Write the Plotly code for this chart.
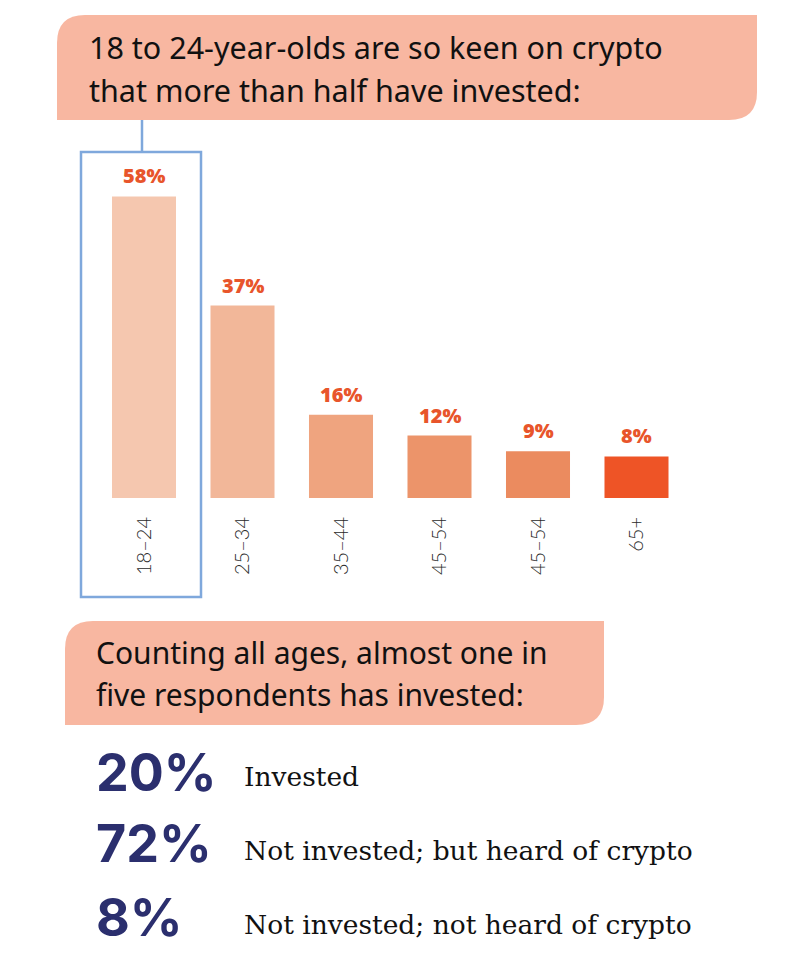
import plotly.graph_objects as go

# ---- data ----
age_groups = ["18–24", "25–34", "35–44", "45–54", "45–54", "65+"]
invested_pct = [58, 37, 16, 12, 9, 8]
bar_colors = ["#F5C7AF", "#F2B799", "#EFA47F", "#EC946A", "#EB8B5F", "#EE5426"]

summary_pct = [20, 72, 8]
summary_labels = ["Invested", "Not invested; but heard of crypto", "Not invested; not heard of crypto"]

title_lines = ["18 to 24-year-olds are so keen on crypto", "that more than half have invested:"]
sub_lines = ["Counting all ages, almost one in", "five respondents has invested:"]

W, H = 810, 959
def X(px): return px / W
def Y(py): return 1 - py / H

BOX_FILL = "#F8B7A1"
BLUE = "#7FA8DC"
PCT_COLOR = "#E8552B"
NAVY = "#2B2F6E"

xs = list(range(len(age_groups)))

fig = go.Figure()
fig.add_trace(go.Bar(
    x=xs, y=invested_pct, marker=dict(color=bar_colors, line=dict(width=0)),
    width=0.65, hoverinfo="skip", showlegend=False,
))

# y axis: baseline at 498px, top of domain at 150px, 5.2 px per %
y_bottom_px, y_top_px = 498, 150
y_range_top = (y_bottom_px - y_top_px) / 5.2
# x axis: category step 98.5px, first center at 144px
step = 98.5
x_left = 144 - step / 2
x_right = x_left + step * len(age_groups)

fig.update_layout(
    width=W, height=H, margin=dict(l=0, r=0, t=0, b=0),
    paper_bgcolor="white", plot_bgcolor="white",
    xaxis=dict(domain=[X(x_left), X(x_right)], range=[-0.5, len(age_groups) - 0.5],
               tickvals=xs, ticktext=age_groups, tickangle=-90,
               showgrid=False, zeroline=False, showline=False, ticks="",
               ticklabelstandoff=14,
               tickfont=dict(family="Lato", size=20, color="#2a2a2a", weight=300)),
    yaxis=dict(domain=[Y(y_bottom_px), Y(y_top_px)], range=[0, y_range_top],
               visible=False, showgrid=False, zeroline=False),
)

annotations = []
for i, v in enumerate(invested_pct):
    annotations.append(dict(x=i, y=v, xref="x", yref="y", text=f"{v}%",
                            showarrow=False, yanchor="bottom", yshift=5,
                            font=dict(family="Open Sans", size=20, color=PCT_COLOR, weight=800)))

shapes = []
def rounded_box(l, t, r, b, rad):
    path = (f"M {X(l)},{Y(b)} L {X(l)},{Y(t + rad)} Q {X(l)},{Y(t)} {X(l + rad)},{Y(t)} "
            f"L {X(r)},{Y(t)} L {X(r)},{Y(b - rad)} Q {X(r)},{Y(b)} {X(r - rad)},{Y(b)} Z")
    return dict(type="path", path=path, xref="paper", yref="paper",
                fillcolor=BOX_FILL, line=dict(width=0), layer="below")

shapes.append(rounded_box(57, 15, 757, 120, 28))
shapes.append(rounded_box(65, 621, 604, 725, 28))
# highlight frame + connector
shapes.append(dict(type="rect", xref="paper", yref="paper", x0=X(81), x1=X(201), y0=Y(597), y1=Y(152),
                   line=dict(color=BLUE, width=2.5), fillcolor="rgba(0,0,0,0)"))
shapes.append(dict(type="line", xref="paper", yref="paper", x0=X(142), x1=X(142), y0=Y(120), y1=Y(152),
                   line=dict(color=BLUE, width=2.5)))

for line, cy in zip(title_lines, [47, 90]):
    annotations.append(dict(x=X(87), y=Y(cy), xref="paper", yref="paper", text=line, showarrow=False,
                            xanchor="left", yanchor="middle",
                            font=dict(family="Noto Sans", size=30.5, color="#111111")))
for line, cy in zip(sub_lines, [652, 694]):
    annotations.append(dict(x=X(94), y=Y(cy), xref="paper", yref="paper", text=line, showarrow=False,
                            xanchor="left", yanchor="middle",
                            font=dict(family="Noto Sans", size=30, color="#111111")))

for p, lab, cy, ly in zip(summary_pct, summary_labels, [772, 843, 917], [776, 850, 924]):
    annotations.append(dict(x=X(94), y=Y(cy), xref="paper", yref="paper", text=f"{p}%", showarrow=False,
                            xanchor="left", yanchor="middle",
                            font=dict(family="Inter", size=52, color=NAVY, weight="bold")))
    annotations.append(dict(x=X(242), y=Y(ly), xref="paper", yref="paper", text=lab, showarrow=False,
                            xanchor="left", yanchor="middle",
                            font=dict(family="DejaVu Serif", size=26.5, color="#111111")))

fig.update_layout(annotations=annotations, shapes=shapes)
fig.write_html("out.html", config={"displayModeBar": False},
               post_script="document.body.style.margin='0';")
